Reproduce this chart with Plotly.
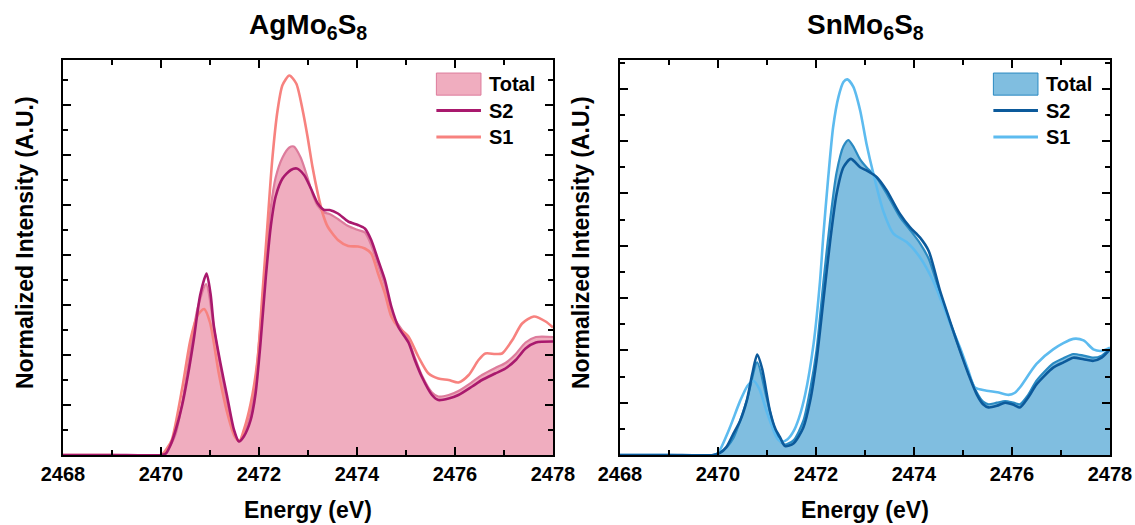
import plotly.graph_objects as go

# ---------------- AgMo6S8 : S K-edge spectra ----------------
ag_s2_e = [2468.0, 2469.0, 2470.0, 2470.1, 2470.19, 2470.3, 2470.43, 2470.55, 2470.67, 2470.8, 2470.93,
           2471.01, 2471.08, 2471.21, 2471.35, 2471.49, 2471.59, 2471.69, 2471.83, 2471.93, 2472.03, 2472.14,
           2472.24, 2472.34, 2472.48, 2472.65, 2472.77, 2472.92, 2473.06, 2473.2, 2473.33, 2473.44,
           2473.61, 2473.82, 2474.02, 2474.16, 2474.29, 2474.43, 2474.57, 2474.7, 2474.85, 2475.05,
           2475.18, 2475.32, 2475.53, 2475.66, 2475.87, 2476.07, 2476.35, 2476.55, 2476.82, 2477.03,
           2477.24, 2477.44, 2477.65, 2478.0]
ag_s2 = [0, 0, 0, 0.03, 0.19, 0.5, 0.99, 1.6, 2.32, 3.2, 3.63,
         3.23, 2.57, 1.85, 1.17, 0.5, 0.27, 0.37, 0.70, 1.23, 2.23, 3.57,
         4.57, 5.17, 5.53, 5.70, 5.73, 5.60, 5.33, 5.03, 4.90, 4.90,
         4.83, 4.67, 4.60, 4.53, 4.30, 3.90, 3.50, 2.97, 2.55, 2.25,
         1.90, 1.57, 1.20, 1.10, 1.13, 1.20, 1.37, 1.50, 1.63, 1.73,
         1.90, 2.13, 2.25, 2.27]

ag_s1_e = [2468.0, 2469.0, 2470.0, 2470.12, 2470.22, 2470.43, 2470.6, 2470.75, 2470.88, 2471.0, 2471.18,
           2471.35, 2471.5, 2471.6, 2471.69, 2471.83, 2471.97, 2472.07, 2472.17, 2472.27, 2472.38,
           2472.48, 2472.62, 2472.76, 2472.89, 2472.99, 2473.09, 2473.2, 2473.3, 2473.4, 2473.61,
           2473.82, 2474.02, 2474.16, 2474.29, 2474.43, 2474.57, 2474.7, 2474.85, 2475.05, 2475.25,
           2475.46, 2475.66, 2475.87, 2476.07, 2476.28, 2476.48, 2476.62, 2476.82, 2476.96, 2477.17,
           2477.37, 2477.61, 2477.85, 2478.0]
ag_s1 = [0, 0, 0, 0.13, 0.3, 1.32, 2.3, 2.8, 2.92, 2.65, 1.63,
         0.85, 0.38, 0.28, 0.5, 1.03, 1.9, 3.23, 4.57, 5.9, 6.9,
         7.4, 7.59, 7.43, 6.9, 6.37, 5.77, 5.23, 4.83, 4.57, 4.3,
         4.18, 4.17, 4.13, 4.03, 3.63, 3.23, 2.77, 2.55, 2.37, 1.97,
         1.63, 1.53, 1.50, 1.45, 1.60, 1.90, 2.03, 2.02, 2.03, 2.30,
         2.63, 2.77, 2.67, 2.55]

ag_tot_e = [2468.0, 2469.0, 2470.0, 2470.15, 2470.3, 2470.45, 2470.6, 2470.75, 2470.92, 2471.08, 2471.21,
            2471.35, 2471.49, 2471.59, 2471.69, 2471.83, 2471.93, 2472.03, 2472.14, 2472.24, 2472.34,
            2472.48, 2472.62, 2472.71, 2472.85, 2472.99, 2473.1, 2473.2, 2473.33, 2473.44, 2473.61,
            2473.82, 2474.02, 2474.16, 2474.29, 2474.43, 2474.57, 2474.7, 2474.77, 2475.05, 2475.18,
            2475.32, 2475.53, 2475.66, 2475.87, 2476.07, 2476.35, 2476.55, 2476.82, 2477.03, 2477.24,
            2477.44, 2477.65, 2478.0]
ag_tot = [0, 0, 0, 0.13, 0.42, 1.15, 2.1, 2.95, 3.42, 2.55, 1.78,
          1.05, 0.46, 0.27, 0.42, 0.85, 1.5, 2.6, 3.95, 4.95, 5.55,
          5.95, 6.15, 6.17, 5.95, 5.55, 5.2, 4.98, 4.85, 4.82, 4.72,
          4.58, 4.5, 4.45, 4.2, 3.8, 3.4, 2.9, 2.72, 2.3, 1.95,
          1.6, 1.25, 1.17, 1.2, 1.28, 1.46, 1.6, 1.74, 1.84, 2.02,
          2.25, 2.36, 2.36]

# ---------------- SnMo6S8 : S K-edge spectra ----------------
sn_s2_e = [2468.0, 2469.0, 2469.9, 2470.04, 2470.17, 2470.31, 2470.45, 2470.59, 2470.7, 2470.8, 2470.9,
           2471.06, 2471.17, 2471.27, 2471.37, 2471.54, 2471.74, 2471.88, 2472.01, 2472.15, 2472.29,
           2472.42, 2472.56, 2472.71, 2472.9, 2473.03, 2473.24, 2473.44, 2473.71, 2473.92, 2474.12,
           2474.3, 2474.53, 2474.73, 2474.94, 2475.11, 2475.28, 2475.41, 2475.52, 2475.69, 2475.86,
           2476.03, 2476.16, 2476.33, 2476.5, 2476.84, 2477.05, 2477.25, 2477.46, 2477.66, 2477.83,
           2478.0]
sn_s2 = [0, 0, 0, 0.04, 0.15, 0.4, 0.65, 1.05, 1.55, 1.92, 1.65,
         0.84, 0.5, 0.33, 0.17, 0.22, 0.52, 1.03, 1.8, 2.95, 4.1,
         4.99, 5.5, 5.66, 5.5, 5.44, 5.31, 5.06, 4.61, 4.35, 4.16,
         3.9, 3.14, 2.57, 1.99, 1.55, 1.16, 0.97, 0.91, 0.94, 1.0,
         0.96, 0.91, 1.1, 1.35, 1.67, 1.77, 1.86, 1.83, 1.80, 1.86,
         2.02]

sn_s1_e = [2468.0, 2469.0, 2469.95, 2470.04, 2470.24, 2470.45, 2470.6, 2470.72, 2470.85, 2470.99, 2471.2,
           2471.3, 2471.42, 2471.54, 2471.65, 2471.78, 2471.95, 2472.08, 2472.15, 2472.25, 2472.35,
           2472.46, 2472.56, 2472.64, 2472.76, 2472.9, 2473.03, 2473.17, 2473.37, 2473.58, 2473.85,
           2474.12, 2474.39, 2474.53, 2474.73, 2474.94, 2475.11, 2475.24, 2475.48, 2475.7, 2475.93,
           2476.06, 2476.16, 2476.5, 2476.84, 2477.25, 2477.46, 2477.66, 2477.83, 2478.0]
sn_s1 = [0, 0, 0, 0.1, 0.52, 1.03, 1.32, 1.42, 1.25, 0.84, 0.33,
         0.25, 0.3, 0.45, 0.7, 1.16, 2.12, 3.3, 4.2, 5.31, 6.27,
         6.85, 7.13, 7.18, 7.04, 6.59, 5.95, 5.38, 4.67, 4.23, 4.07,
         3.78, 3.33, 3.01, 2.53, 2.05, 1.61, 1.29, 1.23, 1.2, 1.15,
         1.19, 1.29, 1.74, 2.02, 2.22, 2.19, 2.02, 1.99, 2.05]

sn_tot_e = [2468.0, 2469.0, 2469.9, 2470.1, 2470.3, 2470.59, 2470.8, 2470.99, 2471.2, 2471.35, 2471.54,
            2471.74, 2471.88, 2472.01, 2472.15, 2472.29, 2472.42, 2472.56, 2472.66, 2472.76, 2472.9,
            2473.03, 2473.24, 2473.44, 2473.71, 2473.92, 2474.12, 2474.3, 2474.53, 2474.73, 2474.94,
            2475.11, 2475.28, 2475.41, 2475.52, 2475.69, 2475.86, 2476.03, 2476.16, 2476.33, 2476.5,
            2476.84, 2477.05, 2477.25, 2477.46, 2477.66, 2477.83, 2478.0]
sn_tot = [0, 0, 0, 0.08, 0.3, 1.05, 1.77, 1.1, 0.38, 0.2, 0.28,
          0.65, 1.25, 2.0, 3.3, 4.5, 5.4, 5.9, 6.02, 5.9, 5.65,
          5.5, 5.3, 5.0, 4.55, 4.3, 4.05, 3.75, 3.1, 2.55, 2.0,
          1.57, 1.2, 1.02, 0.97, 1.0, 1.03, 1.0, 0.97, 1.15, 1.42,
          1.75, 1.85, 1.93, 1.9, 1.86, 1.9, 2.04]

titles = ["AgMo<sub>6</sub>S<sub>8</sub>", "SnMo<sub>6</sub>S<sub>8</sub>"]
legend_labels = ["Total", "S2", "S1"]
x_ticks = [2468, 2470, 2472, 2474, 2476, 2478]

panels = [
    dict(tot=(ag_tot_e, ag_tot), s2=(ag_s2_e, ag_s2), s1=(ag_s1_e, ag_s1),
         fill="#F0ADBF", edge="#DD7C9C", c2="#A9196D", c1="#F7827F", ymax=7.9),
    dict(tot=(sn_tot_e, sn_tot), s2=(sn_s2_e, sn_s2), s1=(sn_s1_e, sn_s1),
         fill="#80BEE0", edge="#2A8AC2", c2="#0C5A9B", c1="#5DBBEF", ymax=7.55),
]

FONT = "Liberation Sans, Arial, sans-serif"
fig = go.Figure()

x_domains = [[63 / 1135, 553 / 1135], [620 / 1135, 1110 / 1135]]
y_domain = [1 - 455 / 525, 1 - 60 / 525]

for i, p in enumerate(panels):
    xa = "x" if i == 0 else "x2"
    ya = "y" if i == 0 else "y2"
    fig.add_trace(go.Scatter(x=p["tot"][0], y=p["tot"][1], mode="lines", fill="tozeroy",
                             fillcolor=p["fill"], line=dict(color=p["edge"], width=2.2, shape="spline", smoothing=0.7),
                             name=legend_labels[0], xaxis=xa, yaxis=ya, showlegend=False))
    fig.add_trace(go.Scatter(x=p["s1"][0], y=p["s1"][1], mode="lines",
                             line=dict(color=p["c1"], width=2.6, shape="spline", smoothing=0.7),
                             name=legend_labels[2], xaxis=xa, yaxis=ya, showlegend=False))
    fig.add_trace(go.Scatter(x=p["s2"][0], y=p["s2"][1], mode="lines",
                             line=dict(color=p["c2"], width=2.6, shape="spline", smoothing=0.7),
                             name=legend_labels[1], xaxis=xa, yaxis=ya, showlegend=False))

    axis_common = dict(showline=True, linecolor="black", linewidth=2, mirror="allticks",
                       ticks="inside", tickcolor="black", tickwidth=2, ticklen=8,
                       showgrid=False, zeroline=False, automargin=False)
    fig.layout["xaxis" if i == 0 else "xaxis2"] = dict(
        domain=x_domains[i], anchor=ya, range=[2468, 2478], tickmode="array", tickvals=x_ticks,
        ticktext=[str(t) for t in x_ticks],
        tickfont=dict(family=FONT, size=20, color="black", weight="bold"),
        minor=dict(ticks="inside", dtick=1, tick0=2468, ticklen=5, tickwidth=2, tickcolor="black"),
        **axis_common)
    fig.layout["yaxis" if i == 0 else "yaxis2"] = dict(
        domain=y_domain, anchor=xa, range=[0, p["ymax"]], dtick=1, tick0=0, showticklabels=False,
        minor=dict(ticks="inside", dtick=0.5, tick0=0, ticklen=5, tickwidth=2, tickcolor="black"),
        **axis_common)

    cx = (x_domains[i][0] + x_domains[i][1]) / 2
    fig.add_annotation(text="<b>" + titles[i] + "</b>", x=cx, y=1 - 27 / 525, xref="paper", yref="paper",
                       xanchor="center", yanchor="middle", showarrow=False,
                       font=dict(family=FONT, size=28, color="black"))
    fig.add_annotation(text="<b>Energy (eV)</b>", x=cx, y=1 - 510 / 525, xref="paper", yref="paper",
                       xanchor="center", yanchor="middle", showarrow=False,
                       font=dict(family=FONT, size=23, color="black"))
    fig.add_annotation(text="<b>Normalized Intensity (A.U.)</b>", textangle=-90,
                       x=(25 if i == 0 else 581) / 1135, y=1 - 243 / 525, xref="paper", yref="paper",
                       xanchor="center", yanchor="middle",
                       showarrow=False, font=dict(family=FONT, size=23, color="black"))

    # legend block drawn in the panel's domain coordinates
    xd = "x domain" if i == 0 else "x2 domain"
    yd = "y domain" if i == 0 else "y2 domain"
    rows = [0.939, 0.872, 0.805]
    sx0, sx1, tx = 0.762, 0.853, 0.866
    fig.add_shape(type="rect", xref=xd, yref=yd, x0=sx0, x1=sx1, y0=rows[0] - 0.028, y1=rows[0] + 0.028,
                  fillcolor=p["fill"], line=dict(color=p["edge"], width=1))
    fig.add_shape(type="line", xref=xd, yref=yd, x0=sx0, x1=sx1, y0=rows[1], y1=rows[1],
                  line=dict(color=p["c2"], width=3))
    fig.add_shape(type="line", xref=xd, yref=yd, x0=sx0, x1=sx1, y0=rows[2], y1=rows[2],
                  line=dict(color=p["c1"], width=3))
    for lab, ry in zip(legend_labels, rows):
        fig.add_annotation(text="<b>" + lab + "</b>", xref=xd, yref=yd, x=tx, y=ry, xanchor="left",
                           yanchor="middle", showarrow=False, font=dict(family=FONT, size=20, color="black"))

fig.update_layout(width=1135, height=525, margin=dict(l=0, r=0, t=0, b=0),
                  paper_bgcolor="white", plot_bgcolor="white", showlegend=False)

fig.write_html("out.html")
